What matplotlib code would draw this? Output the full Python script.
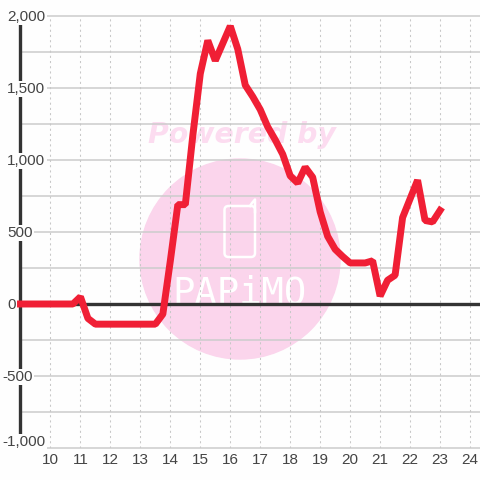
import matplotlib
matplotlib.use('Agg')
import matplotlib.pyplot as plt
from matplotlib.patches import Circle, FancyBboxPatch
from matplotlib.transforms import IdentityTransform, blended_transform_factory, offset_copy

# values
hours = [9, 10.75, 11, 11.25, 11.5, 13.5, 13.75, 14, 14.25, 14.5, 14.75, 15, 15.25, 15.5, 15.75,
         16, 16.25, 16.5, 16.75, 17, 17.25, 17.5, 17.75, 18, 18.25, 18.5, 18.75, 19, 19.25, 19.5,
         19.75, 20, 20.25, 20.5, 20.75, 21, 21.25, 21.5, 21.75, 22, 22.25, 22.5, 22.75, 23]
values = [0, 0, 50, -100, -140, -140, -70, 300, 690, 690, 1170, 1600, 1830, 1690, 1810,
          1930, 1770, 1520, 1440, 1350, 1230, 1140, 1040, 890, 840, 950, 880, 640, 470, 380,
          330, 285, 285, 285, 300, 55, 165, 200, 600, 730, 860, 580, 570, 650]

x_ticks = list(range(10, 25))
y_ticks = [-1000, -500, 0, 500, 1000, 1500, 2000]
y_labels = ['-1,000', '-500', '0', '500', '1,000', '1,500', '2,000']
y_minor = [-750, -250, 250, 750, 1250, 1750]

plt.rcParams['font.family'] = ['Liberation Sans', 'DejaVu Sans']
bg = '#fefefe'
fig = plt.figure(figsize=(4.8, 4.8), dpi=100, facecolor=bg)

# axes box covers x 20..480 px, y 16..448 px
ax = fig.add_axes([20 / 480, 32 / 480, 460 / 480, 432 / 480], facecolor=bg)
ax.set_xlim(9 - 0.5 / 30, 24 + 1 / 3)
ax.set_ylim(-1000, 2000)
for s in ax.spines.values():
    s.set_visible(False)

# watermark, in pixels
pixels = IdentityTransform()
ax.add_artist(Circle((240, 480 - 259), 100, transform=pixels, color='#fbd5ec', zorder=1))
ax.add_artist(FancyBboxPatch((224.5, 480 - 257), 30.5, 51, boxstyle='round,pad=0,rounding_size=4',
                             transform=pixels, fill=False, edgecolor='white', linewidth=1.8, zorder=1.1))
ax.plot([250, 252, 255, 255], [480 - 206, 480 - 203, 480 - 199.5, 480 - 212], transform=pixels,
        color='white', linewidth=1.8, zorder=1.1, clip_on=False)
ax.text(242 / 480, 1 - 135 / 480, 'Powered by', transform=fig.transFigure, color='#fcdcf0',
        fontsize=20.4, fontweight='bold', style='italic', ha='center', va='center', zorder=1,
        family=['DejaVu Sans'])
ax.text(239 / 480, 1 - 303 / 480, 'PAPiMO', transform=fig.transFigure, color='white', fontsize=26.7,
        ha='center', va='baseline', zorder=1.1, family=['DejaVu Sans Mono'])

# grid
for v in y_ticks + y_minor:
    if v != 0:
        ax.axhline(v, color='#cccccc', linewidth=1.1, zorder=2, clip_on=False)
for h in x_ticks:
    ax.axvline(h, color='#c8c8c8', linewidth=0.75, linestyle=(0, (2, 3)), zorder=2)

ax.axhline(0, color='#333333', linewidth=2.4, zorder=3)
ax.plot([9, 9], [-1000, 2000], color='#333333', linewidth=2.4, zorder=3, solid_capstyle='butt',
        clip_on=False)

ax.plot(hours, values, color='#f01f35', linewidth=5, zorder=4, solid_joinstyle='bevel',
        solid_capstyle='projecting', clip_on=False)

# ticks
ax.set_xticks(x_ticks)
ax.set_xticklabels([str(h) for h in x_ticks])
ax.set_yticks([])
ax.tick_params(axis='x', length=0, labelsize=11, labelcolor='#444444', pad=3.5)

# y labels sit on a patch of background that cuts the axis and grid
label_tr = offset_copy(blended_transform_factory(fig.transFigure, ax.transData), fig=fig, y=-1, units='dots')
for v, lab in zip(y_ticks, y_labels):
    left = 2 if v < 0 else 7
    ax.text(left / 480, v, lab, transform=label_tr, ha='left', va='bottom' if v == -1000 else 'center',
            fontsize=11, color='#444444', zorder=6, clip_on=False,
            bbox=dict(facecolor=bg, edgecolor='none', pad=1))

fig.savefig('out.png', dpi=100, facecolor=fig.get_facecolor())
